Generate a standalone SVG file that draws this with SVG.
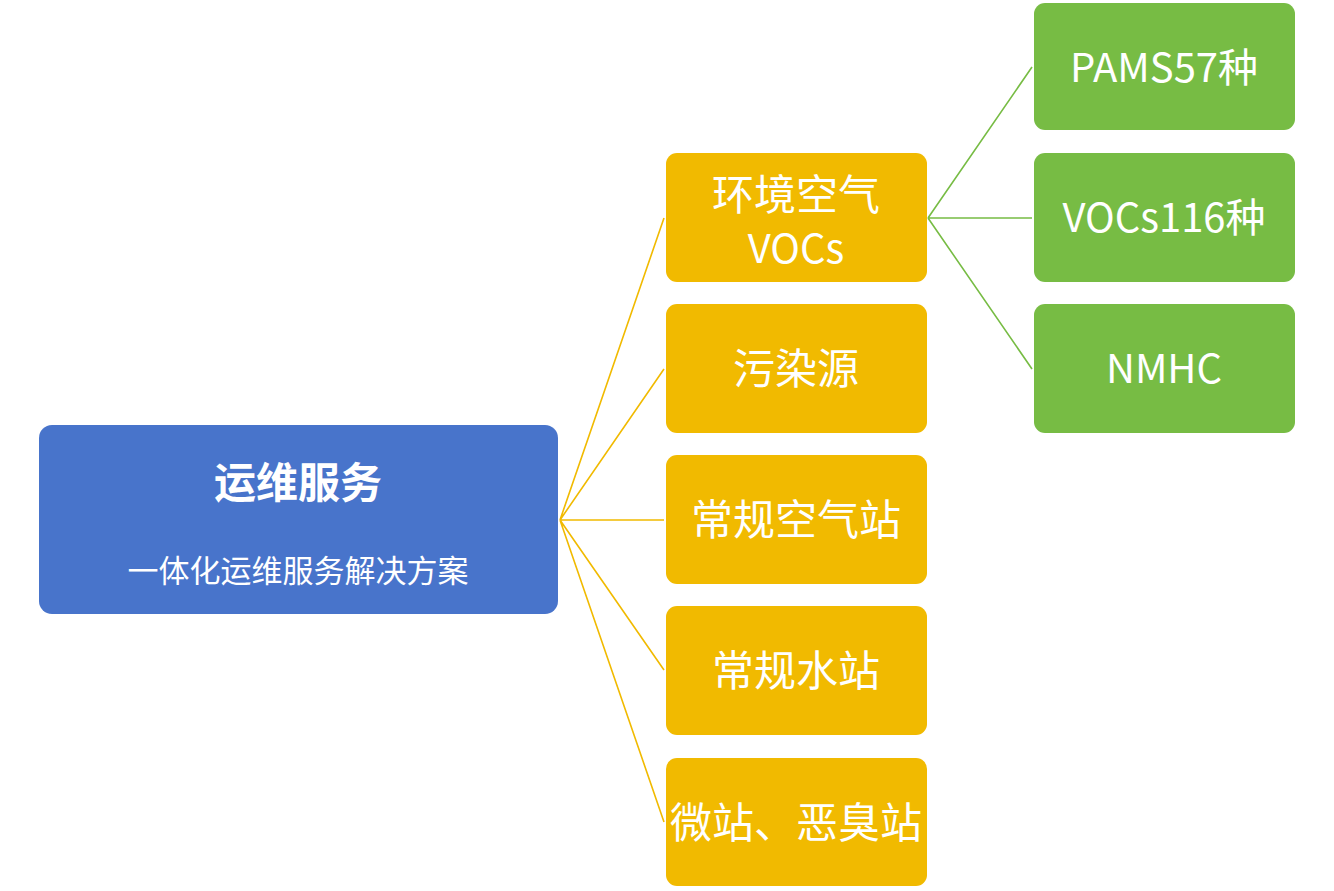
<svg xmlns="http://www.w3.org/2000/svg" width="1334" height="891" viewBox="0 0 1334 891">
<style>
.t{font-family:"Noto Sans CJK SC","Noto Sans",sans-serif;fill:#fff;text-anchor:middle}
.y{fill:#F1BA00}
.g{fill:#77BC44}
.b{fill:#4874CB}
.cy{stroke:#F1BA00;stroke-width:1.6;fill:none}
.cg{stroke:#77BC44;stroke-width:1.6;fill:none}
.lbl{font-size:42px}
.lat{font-size:40px}
</style>
<rect width="1334" height="891" fill="#fff"/>
<g id="connectors">
<path class="cy" d="M560 520L664 218M560 520L664 369M560 520L664 520M560 520L664 670M560 520L664 822"/>
<path class="cg" d="M928 218L1032 67M928 218L1032 218M928 218L1032 369"/>
</g>
<g id="root">
<rect class="b" x="39" y="425" width="519" height="189" rx="13"/>
<text class="t" x="298" y="498" font-size="42" font-weight="bold">运维服务</text>
<text class="t" x="298" y="582" font-size="31">一体化运维服务解决方案</text>
</g>
<g id="n1">
<rect class="y" x="666" y="153" width="261" height="129" rx="11"/>
<text class="t lbl" x="796" y="210">环境空气</text>
<text class="t lat" x="796" y="263">VOCs</text>
</g>
<g id="n2">
<rect class="y" x="666" y="304" width="261" height="129" rx="11"/>
<text class="t lbl" x="796" y="384">污染源</text>
</g>
<g id="n3">
<rect class="y" x="666" y="455" width="261" height="129" rx="11"/>
<text class="t lbl" x="796" y="535">常规空气站</text>
</g>
<g id="n4">
<rect class="y" x="666" y="606" width="261" height="129" rx="11"/>
<text class="t lbl" x="796" y="686">常规水站</text>
</g>
<g id="n5">
<rect class="y" x="666" y="758" width="261" height="128" rx="11"/>
<text class="t lbl" x="796" y="838">微站、恶臭站</text>
</g>
<g id="g1">
<rect class="g" x="1034" y="3" width="261" height="127" rx="11"/>
<text class="t lat" x="1164" y="82">PAMS57种</text>
</g>
<g id="g2">
<rect class="g" x="1034" y="153" width="261" height="129" rx="11"/>
<text class="t lat" x="1164" y="232">VOCs116种</text>
</g>
<g id="g3">
<rect class="g" x="1034" y="304" width="261" height="129" rx="11"/>
<text class="t lat" x="1164" y="383">NMHC</text>
</g>
</svg>
